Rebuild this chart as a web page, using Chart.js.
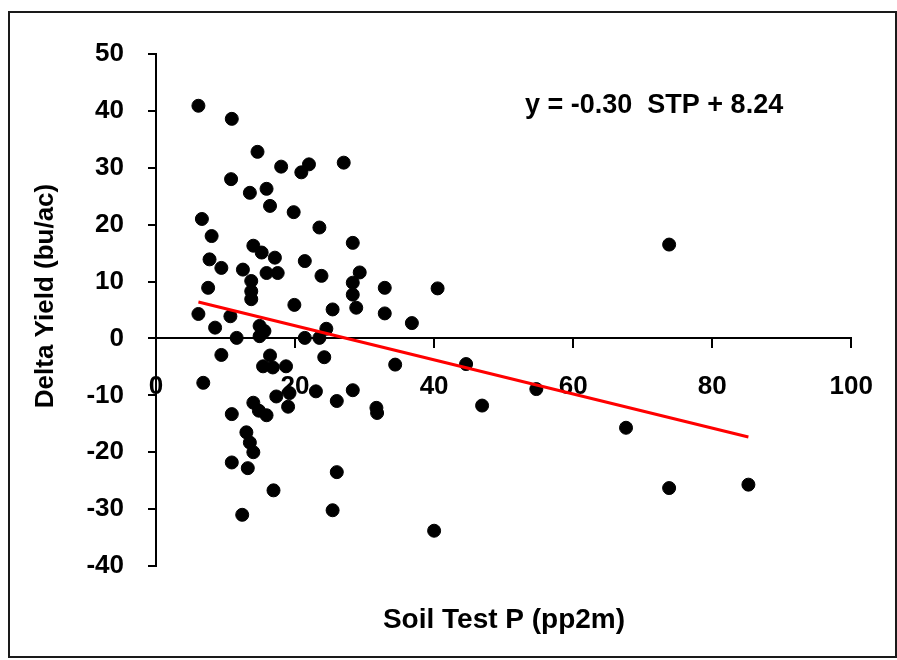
<!DOCTYPE html>
<html>
<head>
<meta charset="utf-8">
<script src="https://cdn.jsdelivr.net/npm/chart.js@4.4.1/dist/chart.umd.min.js"></script>
<style>
    html, body { margin: 0; padding: 0; background: #fff; }
    #wrap { position: relative; width: 897px; height: 660px; }
    #frame {
        position: absolute; left: 8px; top: 11px; width: 889px; height: 647px;
        box-sizing: border-box; border: 2px solid #1a1a1a; pointer-events: none;
    }
    #chart-yield { position: absolute; left: 0; top: 0; }
</style>
</head>
<body>
<div id="wrap">
    <canvas id="chart-yield" width="897" height="660"></canvas>
    <div id="frame"></div>
</div>
<script>
// soil test P (pp2m) and the yield difference (bu/ac) for each site
const soilP = [
    6.1, 10.9, 14.6, 18.0, 22.0, 20.9, 27.0, 10.8, 13.5, 15.9,
    16.4, 19.8, 6.6, 23.5, 8.0, 28.3, 14.0, 15.2, 17.1, 7.7,
    9.4, 21.4, 12.5, 15.9, 17.5, 23.8, 13.7, 13.7, 13.7, 29.3,
    28.3, 28.3, 28.8, 7.5, 32.9, 40.5, 32.9, 36.8, 19.9, 25.4,
    6.1, 10.7, 8.5, 14.9, 15.6, 14.9, 11.6, 21.4, 23.5, 24.5,
    9.4, 16.4, 24.2, 34.4, 15.4, 16.8, 18.7, 44.6, 6.8, 23.0,
    28.3, 17.3, 19.2, 19.0, 26.0, 31.7, 31.8, 10.9, 14.0, 14.8,
    15.9, 13.0, 13.5, 14.0, 13.2, 10.9, 26.0, 16.9, 25.4, 12.4,
    40.0, 54.7, 46.9, 67.6, 73.8, 85.2, 73.8
];
const deltaYield = [
    40.9, 38.6, 32.8, 30.2, 30.6, 29.2, 30.9, 28.0, 25.6, 26.3,
    23.3, 22.2, 21.0, 19.5, 18.0, 16.8, 16.3, 15.1, 14.2, 13.9,
    12.4, 13.6, 12.1, 11.5, 11.5, 11.0, 10.1, 8.3, 6.9, 11.6,
    9.8, 7.7, 5.4, 8.9, 8.9, 8.8, 4.4, 2.7, 5.9, 5.1,
    4.3, 3.9, 1.9, 2.2, 1.3, 0.4, 0.1, 0.1, 0.1, 1.7,
    -2.9, -3.0, -3.3, -4.6, -4.9, -5.1, -4.9, -4.5, -7.8, -9.3,
    -9.1, -10.2, -9.6, -12.0, -11.0, -12.2, -13.1, -13.3, -11.3, -12.7,
    -13.5, -16.5, -18.3, -20.0, -22.8, -21.8, -23.5, -26.7, -30.2, -31.0,
    -33.8, -8.9, -11.8, -15.7, -26.3, -25.7, 16.5
];

// fitted line: y = -0.30 STP + 8.24
const fitSlope = -0.30;
const fitIntercept = 8.24;
const fitLabel = 'y = -0.30  STP + 8.24';

const xTitle = 'Soil Test P (pp2m)';
const yTitle = 'Delta Yield (bu/ac)';

const points = soilP.map((v, i) => ({ x: v, y: deltaYield[i] }));
const xLo = Math.min(...soilP);
const xHi = Math.max(...soilP);
const fitLine = [
    { x: xLo, y: fitSlope * xLo + fitIntercept },
    { x: xHi, y: fitSlope * xHi + fitIntercept }
];

const FONT = '"Liberation Sans", Arial, sans-serif';

// equation text and both axis titles
const extraText = {
    id: 'extraText',
    afterDraw(chart) {
        const ctx = chart.ctx;
        ctx.save();
        ctx.fillStyle = '#000';
        ctx.textBaseline = 'middle';
        ctx.font = 'bold 27px ' + FONT;
        ctx.textAlign = 'left';
        ctx.fillText(fitLabel, 525, 106);
        ctx.font = 'bold 28px ' + FONT;
        ctx.textAlign = 'center';
        ctx.fillText(xTitle, 504, 620);
        ctx.font = 'bold 26px ' + FONT;
        ctx.translate(46, 296);
        ctx.rotate(-Math.PI / 2);
        ctx.fillText(yTitle, 0, 0);
        ctx.restore();
    }
};

const ctx = document.getElementById('chart-yield').getContext('2d');
const myChartYield = new Chart(ctx, {
    type: 'scatter',
    data: {
        datasets: [{
            type: 'line',
            data: fitLine,
            borderColor: '#ff0000',
            borderWidth: 3,
            pointRadius: 0,
            fill: false,
            order: 0
        }, {
            data: points,
            backgroundColor: '#000',
            borderColor: '#000',
            borderWidth: 1,
            pointRadius: 6.5,
            order: 1
        }]
    },
    options: {
        responsive: false,
        animation: false,
        layout: { padding: { left: 0, top: 54, right: 44, bottom: 94 } },
        plugins: {
            legend: { display: false },
            tooltip: { enabled: false }
        },
        scales: {
            x: {
                type: 'linear',
                position: { y: 0 },
                min: 0,
                max: 100,
                ticks: {
                    stepSize: 20,
                    color: '#000',
                    padding: 24,
                    font: { family: FONT, size: 26, weight: 'bold' }
                },
                grid: { drawOnChartArea: false, drawTicks: true, tickLength: 9, color: '#000', lineWidth: 2 },
                border: { color: '#000', width: 2 }
            },
            y: {
                type: 'linear',
                min: -40,
                max: 50,
                afterFit: (s) => { s.width = 156; },
                ticks: {
                    stepSize: 10,
                    color: '#000',
                    padding: 24,
                    font: { family: FONT, size: 26, weight: 'bold' }
                },
                grid: { drawOnChartArea: false, drawTicks: true, tickLength: 8, color: '#000', lineWidth: 2 },
                border: { color: '#000', width: 2 }
            }
        }
    },
    plugins: [extraText]
});
</script>
</body>
</html>
